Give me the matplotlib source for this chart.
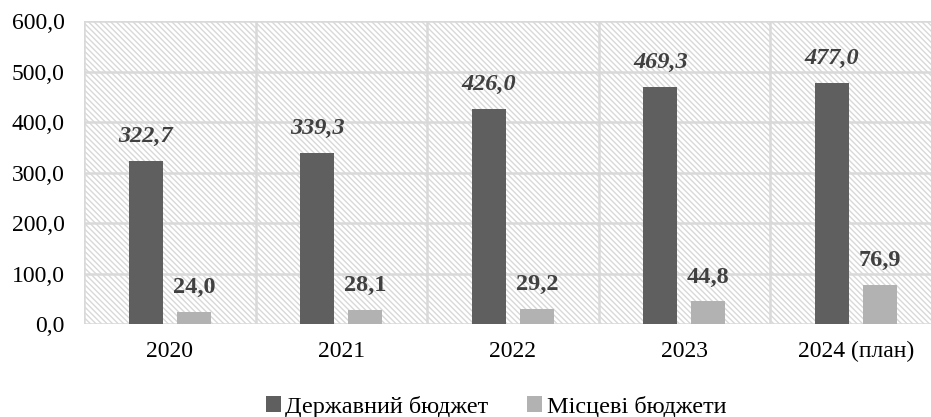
import numpy as np
import matplotlib.pyplot as plt
from matplotlib.patches import Rectangle

years = ['2020', '2021', '2022', '2023', '2024 (план)']
state = [322.7, 339.3, 426.0, 469.3, 477.0]
local = [24.0, 28.1, 29.2, 44.8, 76.9]
names = ['Державний бюджет', 'Місцеві бюджети']

plt.rcParams['font.family'] = ['Liberation Serif', 'DejaVu Serif']
plt.rcParams['hatch.linewidth'] = 1.0

fig = plt.figure(figsize=(9.31, 4.17), dpi=100)
ax = fig.add_axes([84/931, 1-324/417, 857.5/931, 303/417])

x = np.arange(len(years))
w = 0.2
off = 0.14

# striped background of the plot area
bg = Rectangle((0, 0), 1, 1, transform=ax.transAxes, facecolor='white',
               edgecolor='#d8d8d8', linewidth=0, hatch='\\' * 6, zorder=0)
ax.add_patch(bg)

b1 = ax.bar(x - off, state, w, color='#5f5f5f', label=names[0], zorder=3)
b2 = ax.bar(x + off, local, w, color='#b2b2b2', label=names[1], zorder=3)

for xi, v in zip(x - off, state):
    ax.annotate(f'{v:.1f}'.replace('.', ','), (xi, v), xytext=(0, 10),
                textcoords='offset points', ha='center', va='bottom',
                fontsize=17.5, fontweight='bold', fontstyle='italic', color='#404040')
for xi, v in zip(x + off, local):
    ax.annotate(f'{v:.1f}'.replace('.', ','), (xi, v), xytext=(0, 10),
                textcoords='offset points', ha='center', va='bottom',
                fontsize=17.5, fontweight='bold', color='#404040')

ax.set_xlim(-0.5, len(years) - 0.5)
ax.set_ylim(0, 600)
ticks = np.arange(0, 601, 100)
ax.set_yticks(ticks)
ax.set_yticklabels([f'{t:.1f}'.replace('.', ',') for t in ticks], fontsize=17)
ax.set_xticks(x)
ax.set_xticklabels(years, fontsize=17)
ax.set_xticks(np.arange(-0.5, len(years), 1), minor=True)
ax.tick_params(axis='both', which='both', length=0)
ax.tick_params(axis='y', pad=14)
ax.tick_params(axis='x', pad=12)

ax.grid(axis='y', color='#d9d9d9', linewidth=1.8, zorder=1)
ax.grid(axis='x', which='minor', color='#d9d9d9', linewidth=1.8, zorder=1)
ax.grid(axis='x', which='major', visible=False)
ax.set_axisbelow(True)
for s in ax.spines.values():
    s.set_visible(False)

fig.legend(handles=[b1, b2], loc='center', bbox_to_anchor=(0.533, 0.025),
           ncol=2, frameon=False, fontsize=17.5, handlelength=0.6, handleheight=0.6,
           handletextpad=0.2, columnspacing=1.6)

fig.savefig('out.png', dpi=100)
